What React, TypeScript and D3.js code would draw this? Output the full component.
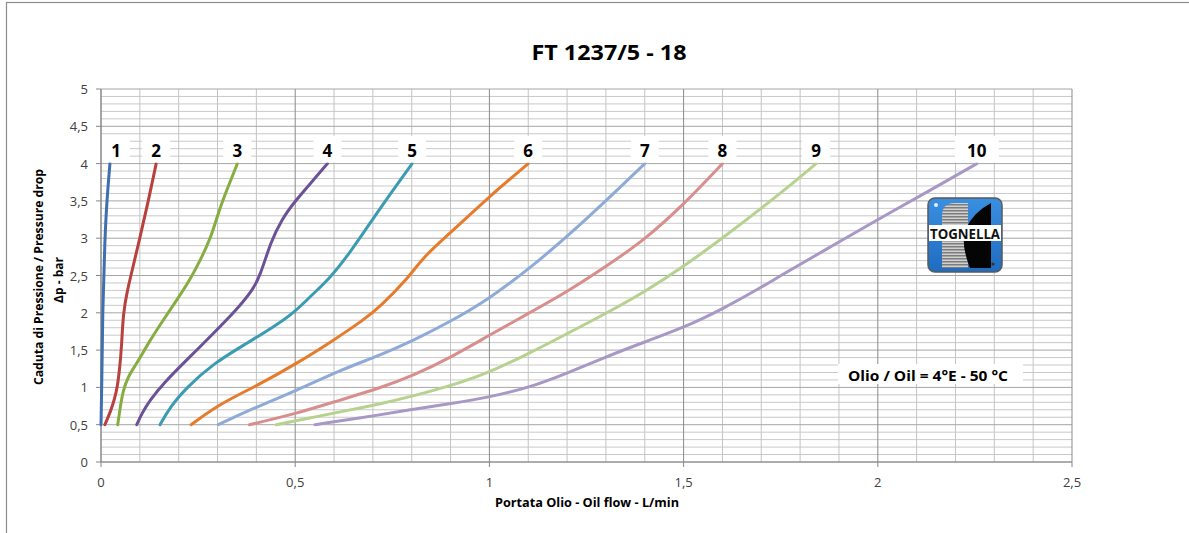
import * as d3 from "d3";

// Pressure drop curves (flow L/min, drop bar)
const curve1: [number, number][] = [[0, 0.5], [0.002, 1], [0.004, 2], [0.01, 3], [0.015, 3.5], [0.023, 4]];
const curve2: [number, number][] = [[0.01, 0.5], [0.025, 0.68], [0.035, 0.85], [0.042, 1.0], [0.048, 1.25], [0.053, 1.54], [0.057, 2.0], [0.068, 2.3], [0.077, 2.5], [0.1, 3.0], [0.122, 3.5], [0.142, 4.0]];
const curve3: [number, number][] = [[0.043, 0.5], [0.05, 0.75], [0.057, 0.96], [0.07, 1.15], [0.092, 1.32], [0.126, 1.63], [0.16, 1.9], [0.195, 2.17], [0.229, 2.44], [0.26, 2.75], [0.282, 3.0], [0.3, 3.3], [0.313, 3.5], [0.332, 3.75], [0.351, 4.0]];
const curve4: [number, number][] = [[0.092, 0.5], [0.105, 0.65], [0.126, 0.83], [0.16, 1.05], [0.221, 1.37], [0.289, 1.72], [0.349, 2.04], [0.39, 2.3], [0.41, 2.5], [0.437, 2.95], [0.465, 3.25], [0.5, 3.5], [0.547, 3.78], [0.583, 4.0]];
const curve5: [number, number][] = [[0.152, 0.5], [0.178, 0.74], [0.221, 1.0], [0.289, 1.32], [0.375, 1.59], [0.444, 1.81], [0.495, 1.99], [0.547, 2.26], [0.585, 2.44], [0.641, 2.8], [0.718, 3.4], [0.801, 4.0]];
const curve6: [number, number][] = [[0.232, 0.5], [0.306, 0.78], [0.401, 1.02], [0.504, 1.32], [0.598, 1.63], [0.675, 1.9], [0.718, 2.08], [0.787, 2.44], [0.83, 2.75], [0.899, 3.07], [1.0, 3.56], [1.1, 4.0]];
const curve7: [number, number][] = [[0.302, 0.5], [0.401, 0.74], [0.504, 0.96], [0.615, 1.23], [0.718, 1.43], [0.804, 1.63], [0.899, 1.88], [1.0, 2.19], [1.1, 2.58], [1.2, 3.02], [1.3, 3.5], [1.4, 4.0]];
const curve8: [number, number][] = [[0.382, 0.5], [0.504, 0.65], [0.615, 0.83], [0.718, 0.99], [0.804, 1.16], [0.9, 1.4], [1.0, 1.7], [1.1, 1.99], [1.2, 2.28], [1.3, 2.62], [1.4, 2.98], [1.5, 3.45], [1.6, 4.0]];
const curve9: [number, number][] = [[0.451, 0.5], [0.547, 0.6], [0.633, 0.69], [0.72, 0.78], [0.8, 0.88], [0.9, 1.02], [1.0, 1.2], [1.1, 1.45], [1.2, 1.72], [1.3, 1.99], [1.4, 2.28], [1.5, 2.62], [1.6, 3.0], [1.75, 3.6], [1.841, 4.0]];
const curve10: [number, number][] = [[0.551, 0.5], [0.718, 0.63], [0.804, 0.71], [0.9, 0.78], [1.0, 0.87], [1.105, 1.0], [1.2, 1.19], [1.3, 1.41], [1.4, 1.61], [1.5, 1.8], [1.6, 2.05], [1.7, 2.34], [1.75, 2.5], [1.877, 2.88], [2.0, 3.25], [2.134, 3.64], [2.255, 4.0]];

const curves = [curve1, curve2, curve3, curve4, curve5, curve6, curve7, curve8, curve9, curve10];
const curveLabels = ["1", "2", "3", "4", "5", "6", "7", "8", "9", "10"];
const curveColors = ["#3e6fb0", "#b8403d", "#86ad40", "#6b5196", "#3a9bb2", "#e67c2b", "#8eaad6", "#d88e8c", "#b6d28e", "#a898c6"];

const xTicks = [0, 0.5, 1, 1.5, 2, 2.5];
const yTicks = [0, 0.5, 1, 1.5, 2, 2.5, 3, 3.5, 4, 4.5, 5];

const title = "FT 1237/5 - 18";
const xTitle = "Portata Olio - Oil flow -  L/min";
const yTitle1 = "Caduta di Pressione / Pressure drop";
const yTitle2 = "Δp - bar";
const note = "Olio / Oil = 4°E - 50 °C";

const font = "'Open Sans', 'Noto Sans', sans-serif";
const fmt = (v: number) => String(v).replace(".", ",");

export default function App() {
	const width = 1189;
	const height = 533;
	const x = d3.scaleLinear().domain([0, 2.5]).range([101, 1072]);
	const y = d3.scaleLinear().domain([0, 5]).range([462, 89]);

	// basis smoothing irons out small reading errors in the points
	const line = d3.line<[number, number]>()
		.x(d => x(d[0]))
		.y(d => y(d[1]))
		.curve(d3.curveBasis);

	const minorX = d3.range(0, 26).map(i => i / 10);
	const minorY = d3.range(0, 51).map(i => i / 10);
	const isMajor = (v: number) => Math.abs(v * 2 - Math.round(v * 2)) < 1e-6;

	// Tognella logo placement (decoration)
	const lx = 928, ly = 198, lw = 74, lh = 74;

	return (
		<svg width={width} height={height} style={{ position: "absolute", left: 0, top: 0, background: "#fff" }} fontFamily={font}>
			<defs>
				<pattern id="stripes" width="4" height="3" patternUnits="userSpaceOnUse">
					<rect width="4" height="3" fill="#d0d0d0" />
					<rect width="4" height="1.5" fill="#7d7d7d" />
				</pattern>
				<linearGradient id="blue" x1="0" y1="0" x2="0" y2="1">
					<stop offset="0" stopColor="#3a8fe0" />
					<stop offset="1" stopColor="#1f6cc0" />
				</linearGradient>
			</defs>

			{/* outer chart border */}
			<rect x={6.5} y={2.5} width={1400} height={700} fill="none" stroke="#8c8c8c" strokeWidth={1.2} />

			<text x={609} y={52} textAnchor="middle" dominantBaseline="central" fontSize={21} fontWeight="bold" fill="#000" textLength={155} lengthAdjust="spacingAndGlyphs">{title}</text>

			{/* minor grid */}
			{minorY.filter(v => !isMajor(v)).map(v => (
				<line key={"my" + v} x1={x(0)} x2={x(2.5)} y1={y(v)} y2={y(v)} stroke="#c9c9c9" strokeWidth={1} />
			))}
			{minorX.filter(v => !isMajor(v)).map(v => (
				<line key={"mx" + v} x1={x(v)} x2={x(v)} y1={y(0)} y2={y(5)} stroke="#c4c4c4" strokeWidth={1} />
			))}
			{/* major grid */}
			{yTicks.map(v => (
				<line key={"gy" + v} x1={x(0)} x2={x(2.5)} y1={y(v)} y2={y(v)} stroke="#a6a6a6" strokeWidth={1} />
			))}
			{xTicks.map(v => (
				<line key={"gx" + v} x1={x(v)} x2={x(v)} y1={y(0)} y2={y(5)} stroke="#8a8a8a" strokeWidth={1} />
			))}

			{/* axes */}
			<line x1={x(0)} x2={x(0)} y1={y(0)} y2={y(5)} stroke="#868686" strokeWidth={1} />
			<line x1={x(0)} x2={x(2.5)} y1={y(0)} y2={y(0)} stroke="#868686" strokeWidth={1} />
			{yTicks.map(v => (
				<g key={"ty" + v}>
					<line x1={x(0) - 5} x2={x(0)} y1={y(v)} y2={y(v)} stroke="#868686" />
					<text x={88} y={y(v)} textAnchor="end" dominantBaseline="central" fontSize={13} fill="#404040">{fmt(v)}</text>
				</g>
			))}
			{xTicks.map(v => (
				<g key={"tx" + v}>
					<line x1={x(v)} x2={x(v)} y1={y(0)} y2={y(0) + 5} stroke="#868686" />
					<text x={x(v)} y={482} textAnchor="middle" dominantBaseline="central" fontSize={13} fill="#404040">{fmt(v)}</text>
				</g>
			))}

			<text x={587} y={502} textAnchor="middle" dominantBaseline="central" fontSize={12} fontWeight="bold" fill="#000" textLength={184} lengthAdjust="spacingAndGlyphs">{xTitle}</text>
			<text transform={`translate(38,277) rotate(-90)`} textAnchor="middle" dominantBaseline="central" fontSize={12} fontWeight="bold" fill="#000" textLength={216} lengthAdjust="spacingAndGlyphs">{yTitle1}</text>
			<text transform={`translate(58,280) rotate(-90)`} textAnchor="middle" dominantBaseline="central" fontSize={12} fontWeight="bold" fill="#000">{yTitle2}</text>

			{/* curves */}
			{curves.map((c, i) => (
				<path key={"c" + i} d={line(c) ?? ""} fill="none" stroke={curveColors[i]} strokeWidth={3} strokeLinecap="round" strokeLinejoin="round" />
			))}

			{/* curve labels */}
			{curves.map((c, i) => {
				const last = c[c.length - 1];
				const w = curveLabels[i].length > 1 ? 44 : 28;
				const cx = Math.max(x(last[0]), x(0) + w / 2 + 1);
				const cy = y(4.18);
				return (
					<g key={"l" + i}>
						<rect x={cx - w / 2} y={y(4.37)} width={w} height={y(4) - y(4.37) - 1} fill="#fff" />
						<text x={cx} y={cy} textAnchor="middle" dominantBaseline="central" fontSize={17} fontWeight="bold" fill="#000">{curveLabels[i]}</text>
					</g>
				);
			})}

			{/* logo */}
			<g>
				<rect x={lx} y={ly} width={lw} height={lh} rx={7} fill="url(#blue)" stroke="#5a5a5a" strokeWidth={1.5} />
				<path d={`M${lx + 14},${ly + lh - 4} L${lx + 14},${ly + 18} Q${lx + 14},${ly + 5} ${lx + 27},${ly + 5} L${lx + 40},${ly + 5} L${lx + 40},${ly + lh - 4} Z`} fill="url(#stripes)" />
				<path d={`M${lx + 63},${ly + 5} L${lx + 63},${ly + lh - 4} L${lx + 42},${ly + lh - 4} Q${lx + 32},${ly + 45} ${lx + 38},${ly + 30} Q${lx + 46},${ly + 14} ${lx + 63},${ly + 5} Z`} fill="#050505" />
				<rect x={lx + 1} y={ly + 27} width={lw - 2} height={16} fill="#fff" />
				<text x={lx + lw / 2} y={ly + 35.5} textAnchor="middle" dominantBaseline="central" fontSize={14} fontWeight="bold" fill="#111" textLength={70} lengthAdjust="spacingAndGlyphs">TOGNELLA</text>
				<circle cx={lx + 8} cy={ly + 7} r={2} fill="#dfefff" />
				<circle cx={lx + 65} cy={ly + 66} r={1.6} fill="#333" />
			</g>

			{/* oil note */}
			<rect x={838} y={364} width={185} height={20} fill="#fff" />
			<text x={928} y={375} textAnchor="middle" dominantBaseline="central" fontSize={15} fontWeight="bold" fill="#000" textLength={160} lengthAdjust="spacingAndGlyphs">{note}</text>
		</svg>
	);
}
